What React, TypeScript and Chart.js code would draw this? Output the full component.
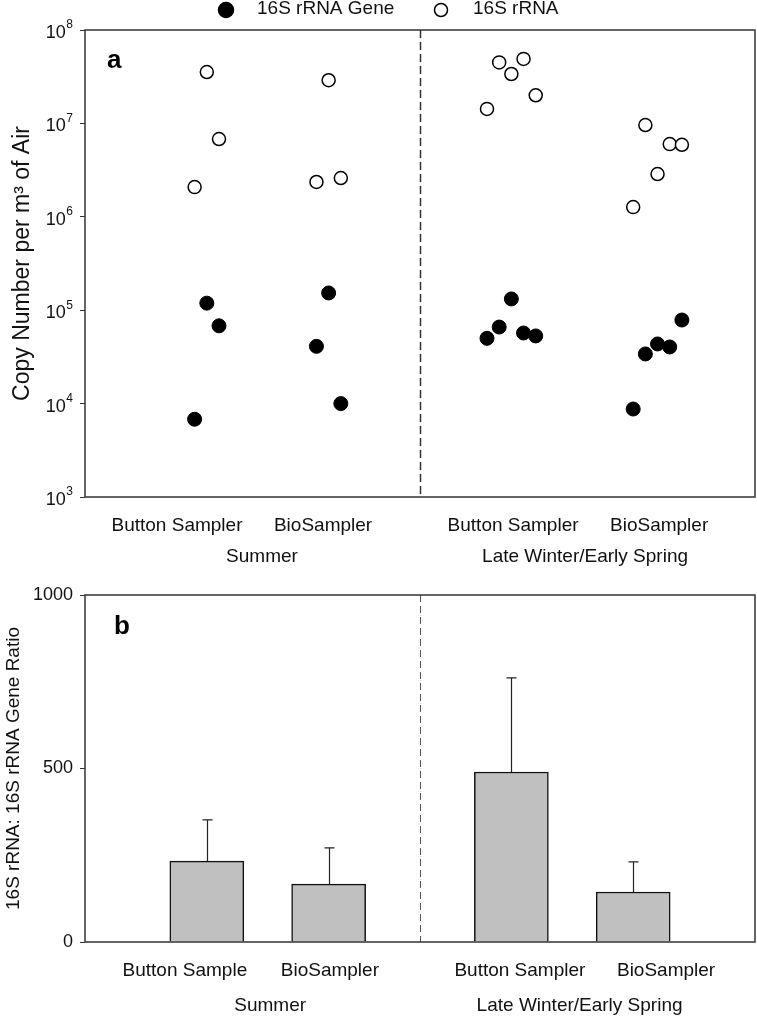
import React, { useEffect, useRef } from "react";
import { Chart, registerables } from "chart.js";

Chart.register(...registerables);

const FONT = '"Liberation Sans", Arial, Helvetica, sans-serif';

// ---------- Panel a data ----------
const seriesNames = ["16S rRNA Gene", "16S rRNA"];
// 16S rRNA gene copies (filled)
const geneX = [1.0, 1.1, 0.9, 2.0, 1.9, 2.1, 3.5, 3.4, 3.3, 3.6, 3.7, 4.9, 4.7, 4.8, 4.6, 4.5];
const geneY = [1.19e5, 6.8e4, 6.8e3, 1.53e5, 4.1e4, 1.0e4, 1.32e5, 6.6e4, 5.0e4, 5.7e4, 5.3e4, 7.85e4, 4.35e4, 4.04e4, 3.4e4, 8.75e3];
// 16S rRNA copies (open)
const rrnaX = [1.0, 1.1, 0.9, 2.0, 1.9, 2.1, 3.4, 3.5, 3.6, 3.7, 3.3, 4.6, 4.8, 4.9, 4.7, 4.5];
const rrnaY = [3.55e7, 6.8e6, 2.08e6, 2.9e7, 2.36e6, 2.6e6, 4.5e7, 3.38e7, 4.9e7, 2.0e7, 1.43e7, 9.6e6, 6.0e6, 5.9e6, 2.87e6, 1.27e6];
const decadeTicks = [1e3, 1e4, 1e5, 1e6, 1e7, 1e8];
const sampleLabelsA = ["Button Sampler", "BioSampler", "Button Sampler", "BioSampler"];
const seasonLabels = ["Summer", "Late Winter/Early Spring"];

// ---------- Panel b data ----------
const sampleLabelsB = ["Button Sample", "BioSampler", "Button Sampler", "BioSampler"];
const barX = [1.0, 2.0, 3.5, 4.5];
const ratioMean = [233, 167, 490, 144];
const ratioErr = [119, 104, 271, 87];
const ratioTicks = [0, 500, 1000];

// ---------- layout (not data) ----------
const X_MIN = 0;
const X_MAX = 5.5;
const DIVIDER_X = 2.75;
const sampleLabelPosA = [0.755, 1.954, 3.514, 4.713];
const seasonPosA = [1.453, 4.105];
const sampleLabelPosB = [0.82, 2.01, 3.57, 4.77];
const seasonPosB = [1.52, 4.06];

type PanelLayout = {
  sampleLabels: string[];
  samplePos: number[];
  seasonPos: number[];
  sampleY: number;
  seasonY: number;
  letter: string;
  letterX: number;
  letterY: number;
  dividerColor: string;
  dividerDash: number[];
  dividerWidth: number;
};

function makePanelPlugin(id: string, L: PanelLayout) {
  return {
    id,
    beforeDatasetsDraw(chart: any) {
      const { ctx, chartArea } = chart;
      const xs = chart.scales.x;
      const px = xs.getPixelForValue(DIVIDER_X);
      ctx.save();
      ctx.strokeStyle = L.dividerColor;
      ctx.lineWidth = L.dividerWidth;
      ctx.setLineDash(L.dividerDash);
      ctx.beginPath();
      ctx.moveTo(Math.round(px) + 0.5, chartArea.top);
      ctx.lineTo(Math.round(px) + 0.5, chartArea.bottom);
      ctx.stroke();
      ctx.restore();
    },
    afterDraw(chart: any) {
      const { ctx, chartArea } = chart;
      const xs = chart.scales.x;
      ctx.save();
      // frame
      ctx.strokeStyle = "#333";
      ctx.lineWidth = 1.5;
      ctx.strokeRect(chartArea.left, chartArea.top, chartArea.right - chartArea.left, chartArea.bottom - chartArea.top);
      // category labels
      ctx.fillStyle = "#111";
      ctx.textAlign = "center";
      ctx.textBaseline = "middle";
      ctx.font = `19px ${FONT}`;
      L.sampleLabels.forEach((t, i) => {
        ctx.fillText(t, xs.getPixelForValue(L.samplePos[i]), L.sampleY);
      });
      seasonLabels.forEach((t, i) => {
        ctx.fillText(t, xs.getPixelForValue(L.seasonPos[i]), L.seasonY);
      });
      // panel letter
      ctx.font = `bold 26px ${FONT}`;
      ctx.textAlign = "left";
      ctx.fillStyle = "#000";
      ctx.fillText(L.letter, L.letterX, L.letterY);
      ctx.restore();
    },
  };
}

const logTickPlugin = {
  id: "logTicks",
  afterDraw(chart: any) {
    const { ctx } = chart;
    const ys = chart.scales.y;
    const right = 73;
    ctx.save();
    ctx.fillStyle = "#111";
    ctx.textBaseline = "middle";
    ys.ticks.forEach((t: any) => {
      const py = ys.getPixelForValue(t.value);
      const exp = String(Math.round(Math.log10(t.value)));
      ctx.font = `12px ${FONT}`;
      const supW = ctx.measureText(exp).width;
      ctx.textAlign = "left";
      ctx.fillText(exp, right - supW, py - 5);
      ctx.font = `18px ${FONT}`;
      ctx.textAlign = "right";
      ctx.fillText("10", right - supW - 0.5, py + 3);
    });
    ctx.restore();
  },
};

const legendPlugin = {
  id: "customLegend",
  afterDraw(chart: any) {
    const { ctx } = chart;
    const ds = chart.data.datasets;
    const items = [
      { cx: 226, tx: 257, r: 7.5, d: ds[0] },
      { cx: 441, tx: 473, r: 6.5, d: ds[1] },
    ];
    ctx.save();
    items.forEach((it) => {
      ctx.beginPath();
      ctx.arc(it.cx, 10, it.r, 0, Math.PI * 2);
      ctx.fillStyle = it.d.backgroundColor;
      ctx.fill();
      ctx.lineWidth = 1.5;
      ctx.strokeStyle = it.d.borderColor;
      ctx.stroke();
      ctx.fillStyle = "#111";
      ctx.font = `19px ${FONT}`;
      ctx.textAlign = "left";
      ctx.textBaseline = "middle";
      ctx.fillText(it.d.label, it.tx, 9);
    });
    ctx.restore();
  },
};

const errorBarPlugin = {
  id: "errorBars",
  afterDatasetsDraw(chart: any) {
    const { ctx } = chart;
    const ys = chart.scales.y;
    const meta = chart.getDatasetMeta(0);
    ctx.save();
    ctx.strokeStyle = "#222";
    ctx.lineWidth = 1.2;
    meta.data.forEach((bar: any, i: number) => {
      const x = Math.round(bar.x) + 0.5;
      const yTop = ys.getPixelForValue(ratioMean[i] + ratioErr[i]);
      ctx.beginPath();
      ctx.moveTo(x, bar.y);
      ctx.lineTo(x, yTop);
      ctx.moveTo(x - 5, yTop);
      ctx.lineTo(x + 5, yTop);
      ctx.stroke();
    });
    ctx.restore();
  },
};

function PanelA() {
  const ref = useRef<HTMLCanvasElement>(null);
  useEffect(() => {
    if (!ref.current) return;
    const chart = new Chart(ref.current, {
      type: "scatter",
      data: {
        datasets: [
          {
            label: seriesNames[0],
            data: geneX.map((x, i) => ({ x, y: geneY[i] })),
            backgroundColor: "#000",
            borderColor: "#000",
            borderWidth: 1,
            pointRadius: 7,
          },
          {
            label: seriesNames[1],
            data: rrnaX.map((x, i) => ({ x, y: rrnaY[i] })),
            backgroundColor: "#fff",
            borderColor: "#000",
            borderWidth: 1.5,
            pointRadius: 6.5,
          },
        ],
      },
      options: {
        responsive: false,
        animation: false,
        layout: { autoPadding: false, padding: { top: 30, right: 2, left: 0, bottom: 0 } },
        plugins: { legend: { display: false }, tooltip: { enabled: false } },
        scales: {
          x: {
            type: "linear",
            min: X_MIN,
            max: X_MAX,
            offset: false,
            ticks: { display: false },
            grid: { display: false },
            border: { display: false },
            afterFit: (s: any) => {
              s.height = 78;
            },
          },
          y: {
            type: "logarithmic",
            min: 1e3,
            max: 1e8,
            afterBuildTicks: (s: any) => {
              s.ticks = decadeTicks.map((v) => ({ value: v }));
            },
            ticks: { display: false },
            grid: { display: true, drawOnChartArea: false, drawTicks: true, tickLength: 5, color: "#333" },
            border: { display: false },
            title: {
              display: true,
              text: "Copy Number per m³ of Air",
              font: { family: FONT, size: 23 },
              color: "#111",
              padding: { top: 9, bottom: 0 },
            },
            afterFit: (s: any) => {
              s.width = 85;
            },
          },
        },
      },
      plugins: [
        makePanelPlugin("panelA", {
          sampleLabels: sampleLabelsA,
          samplePos: sampleLabelPosA,
          seasonPos: seasonPosA,
          sampleY: 526,
          seasonY: 557,
          letter: "a",
          letterX: 107,
          letterY: 61,
          dividerColor: "#333",
          dividerDash: [8, 4],
          dividerWidth: 1.5,
        }),
        logTickPlugin,
        legendPlugin,
      ],
    } as any);
    return () => chart.destroy();
  }, []);
  return <canvas ref={ref} width={757} height={575} style={{ display: "block" }} />;
}

function PanelB() {
  const ref = useRef<HTMLCanvasElement>(null);
  useEffect(() => {
    if (!ref.current) return;
    const chart = new Chart(ref.current, {
      type: "bar",
      data: {
        datasets: [
          {
            label: "16S rRNA: 16S rRNA Gene Ratio",
            data: barX.map((x, i) => ({ x, y: ratioMean[i] })),
            backgroundColor: "#c0c0c0",
            borderColor: "#111",
            borderWidth: 1.5,
            barThickness: 74,
          },
        ],
      },
      options: {
        responsive: false,
        animation: false,
        layout: { autoPadding: false, padding: { top: 20, right: 2, left: 0, bottom: 0 } },
        plugins: { legend: { display: false }, tooltip: { enabled: false } },
        scales: {
          x: {
            type: "linear",
            min: X_MIN,
            max: X_MAX,
            offset: false,
            ticks: { display: false },
            grid: { display: false, offset: false },
            border: { display: false },
            afterFit: (s: any) => {
              s.height = 78;
            },
          },
          y: {
            type: "linear",
            min: 0,
            max: 1000,
            afterBuildTicks: (s: any) => {
              s.ticks = ratioTicks.map((v) => ({ value: v }));
            },
            ticks: {
              display: true,
              font: { family: FONT, size: 18 },
              color: "#111",
              padding: 7,
              callback: (v: any) => String(v),
            },
            grid: { display: true, drawOnChartArea: false, drawTicks: true, tickLength: 5, color: "#333" },
            border: { display: false },
            title: {
              display: true,
              text: "16S rRNA: 16S rRNA Gene Ratio",
              font: { family: FONT, size: 19 },
              color: "#111",
              padding: { top: 2, bottom: 0 },
            },
            afterFit: (s: any) => {
              s.width = 85;
            },
          },
        },
      },
      plugins: [
        makePanelPlugin("panelB", {
          sampleLabels: sampleLabelsB,
          samplePos: sampleLabelPosB,
          seasonPos: seasonPosB,
          sampleY: 396,
          seasonY: 431,
          letter: "b",
          letterX: 114,
          letterY: 52,
          dividerColor: "#555",
          dividerDash: [7, 4],
          dividerWidth: 1,
        }),
        errorBarPlugin,
      ],
    } as any);
    return () => chart.destroy();
  }, []);
  return <canvas ref={ref} width={757} height={445} style={{ display: "block" }} />;
}

export default function App() {
  return (
    <div style={{ position: "absolute", left: 0, top: 0, width: 757, height: 1020, background: "#fff" }}>
      <PanelA />
      <PanelB />
    </div>
  );
}
